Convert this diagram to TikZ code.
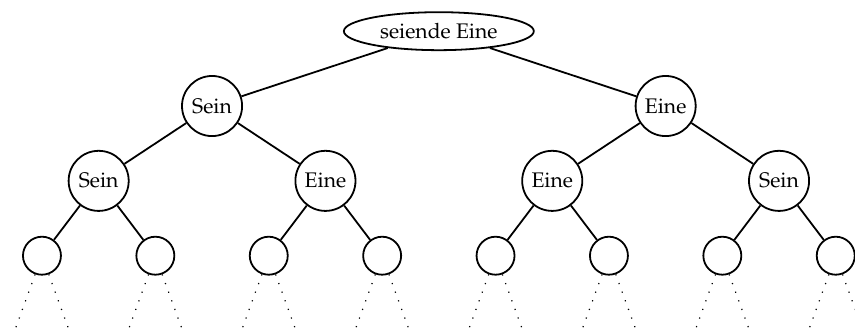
\documentclass[tikz,border=0pt]{standalone}
\usepackage[T1]{fontenc}
\usepackage{mathpazo}
\usetikzlibrary{shapes.geometric,positioning}

\begin{document}
\begin{tikzpicture}[
    on grid,
    node distance=1.32cm and 4cm,
    every node/.style={font=\fontsize{10.6pt}{13pt}\selectfont},
    rootbox/.style={ellipse, draw, line width=0.9pt, inner sep=0pt, minimum width=3.35cm, minimum height=0.67cm},
    bignode/.style={circle, draw, line width=0.9pt, inner sep=0pt, minimum size=1.06cm},
    leafnode/.style={circle, draw, line width=0.9pt, inner sep=0pt, minimum size=0.67cm},
    link/.style={line width=0.9pt},
    more/.style={line width=0.6pt, loosely dotted}
]
    \useasboundingbox (0,0) rectangle (15.08,-5.87);

    \node [rootbox] (root) at (7.74,-0.55) {seiende Eine};

    \node [bignode, below left=of root] (a) {Sein};
    \node [bignode, below right=of root] (b) {Eine};

    \node [bignode, below left=1.32cm and 2cm of a] (aa) {Sein};
    \node [bignode, below right=1.32cm and 2cm of a] (ab) {Eine};
    \node [bignode, below left=1.32cm and 2cm of b] (ba) {Eine};
    \node [bignode, below right=1.32cm and 2cm of b] (bb) {Sein};

    \draw [link] (root) -- (a);
    \draw [link] (root) -- (b);
    \draw [link] (a) -- (aa);
    \draw [link] (a) -- (ab);
    \draw [link] (b) -- (ba);
    \draw [link] (b) -- (bb);

    % leaves, each with two dotted branches
    \foreach \p in {aa,ab,ba,bb} {
        \node [leafnode, below left=1.32cm and 1cm of \p] (\p-l) {};
        \node [leafnode, below right=1.32cm and 1cm of \p] (\p-r) {};
        \draw [link] (\p) -- (\p-l);
        \draw [link] (\p) -- (\p-r);
        \foreach \q in {l,r} {
            \draw [more] (\p-\q.250) -- ++(250:1.1cm);
            \draw [more] (\p-\q.290) -- ++(290:1.1cm);
        }
    }
\end{tikzpicture}
\end{document}
